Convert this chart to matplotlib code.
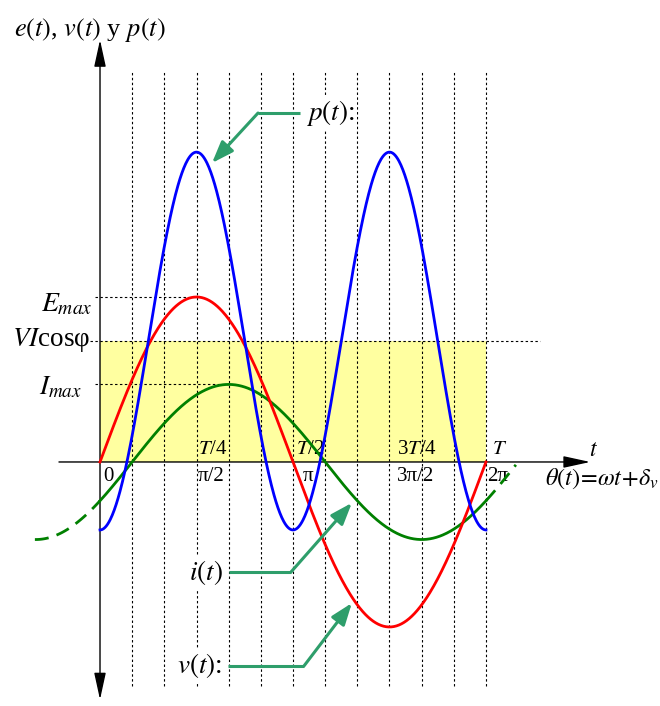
import numpy as np
import matplotlib
matplotlib.use("Agg")
import matplotlib.pyplot as plt
from matplotlib.patches import Rectangle

plt.rcParams["font.family"] = ["Liberation Serif", "DejaVu Serif"]
plt.rcParams["mathtext.fontset"] = "stix"

# Curve parameters (amplitudes relative to E_max)
E_MAX = 1.0            # v(t) amplitude
I_MAX = 0.47           # i(t) amplitude
PHI = np.pi / 6        # current lag
P_MEAN = 0.733         # average power VIcos(phi)
P_AMP = 1.145          # ripple amplitude of p(t)

# extension of the dashed i(t) beyond one period
I_LEFT = -1.06
I_RIGHT = 6.77

# grid lines every 30 degrees
grid_theta = np.arange(1, 13) * np.pi / 6

tick_top = ["$T$/4", "$T$/2", "3$T$/4", "$T$"]
tick_bottom = ["π/2", "π", "3π/2", "2π"]
tick_theta = [np.pi / 2, np.pi, 3 * np.pi / 2, 2 * np.pi]

fig = plt.figure(figsize=(6.6, 7.06), dpi=100)
ax = fig.add_axes([0, 0, 1, 1])
ax.set_xlim(-1.628, 9.116)
ax.set_ylim(-1.479, 2.8)
ax.axis("off")

T = 2 * np.pi
th = np.linspace(0, T, 600)
v = E_MAX * np.sin(th)
i = I_MAX * np.sin(th - PHI)
p = P_MEAN - P_AMP * np.cos(2 * th)

# shaded mean-power band
ax.add_patch(Rectangle((0, 0), T, P_MEAN, facecolor="#ffffa0",
                       edgecolor="none", zorder=0))

# dotted vertical grid
ax.vlines(grid_theta, -1.358, 2.376, colors="black", lw=0.8,
          linestyles=(0, (2.2, 2.2)), zorder=1)

# horizontal reference lines
dot = dict(color="black", lw=0.8, ls=(0, (2.2, 2.2)), zorder=1)
ax.plot([-0.08, np.pi / 2], [E_MAX, E_MAX], **dot)
ax.plot([-0.16, 7.16], [P_MEAN, P_MEAN], **dot)
ax.plot([-0.08, np.pi / 2 + PHI], [I_MAX, I_MAX], **dot)

# axes with arrows
ax.annotate("", xy=(7.98, 0), xytext=(-0.668, 0),
            arrowprops=dict(arrowstyle="-|>,head_length=0.55,head_width=0.12",
                            mutation_scale=30, lw=1.0, color="black",
                            shrinkA=0, shrinkB=0), zorder=3)
ax.annotate("", xy=(0, 2.558), xytext=(0, -1.44),
            arrowprops=dict(arrowstyle="<|-|>,head_length=0.55,head_width=0.12",
                            mutation_scale=30, lw=1.0, color="black",
                            shrinkA=0, shrinkB=0), zorder=3)

# curves
th_l = np.linspace(I_LEFT, 0, 60)
th_r = np.linspace(T, I_RIGHT, 30)
ax.plot(th_l, I_MAX * np.sin(th_l - PHI), color="#008000", lw=2.0,
        ls=(0, (5, 3)), zorder=4)
ax.plot(th_r, I_MAX * np.sin(th_r - PHI), color="#008000", lw=2.0,
        ls=(0, (5, 3)), zorder=4)
ax.plot(th, i, color="#008000", lw=2.0, zorder=4)
ax.plot(th, v, color="#ff0000", lw=2.0, zorder=5)
ax.plot(th, p, color="#0000ff", lw=2.0, zorder=6)

# axis texts
ax.text(-1.40, 2.618, "$e(t)$, $v(t)$ y $p(t)$", fontsize=19,
        ha="left", va="center")
ax.text(-0.13, 0.955, "$E_{max}$", fontsize=20, ha="right", va="center")
ax.text(-0.16, 0.74, "$VI$cosφ", fontsize=19.5, ha="right", va="center")
ax.text(-0.29, 0.45, "$I_{max}$", fontsize=19.5, ha="right", va="center")
ax.text(0.05, -0.085, "0", fontsize=15, ha="left", va="center")

offs_top = [0.02, 0.05, 0.13, 0.1]
offs_bot = [0.02, 0.16, 0.12, 0.02]
for th0, lt, lb, ot, ob in zip(tick_theta, tick_top, tick_bottom,
                               offs_top, offs_bot):
    ax.text(th0 + ot, 0.075, lt, fontsize=15, ha="left", va="center")
    ax.text(th0 + ob, -0.085, lb, fontsize=15, ha="left", va="center")

ax.text(8.04, 0.07, "$t$", fontsize=17, ha="center", va="center")
ax.text(7.24, -0.1, r"$\theta(t)\!=\!\omega t\!+\!\delta_v$", fontsize=17.5,
        ha="left", va="center")

# callouts
green = "#2e9e6b"
box = dict(facecolor="white", edgecolor="none", pad=1.5)


def callout(label, start, elbow, tip, ha):
    ax.plot([start[0], elbow[0]], [start[1], elbow[1]], color=green,
            lw=2.2, solid_capstyle="butt", zorder=7)
    ax.annotate("", xy=tip, xytext=elbow,
                arrowprops=dict(arrowstyle="-|>,head_length=0.6,head_width=0.22",
                                mutation_scale=22, lw=2.2, color=green,
                                shrinkA=0, shrinkB=0), zorder=7)
    x = start[0] + (0.1 if ha == "left" else -0.1)
    ax.text(x, start[1], label, fontsize=19.5, ha=ha, va="center",
            bbox=box, zorder=8)


callout("$p(t)$:", (3.25, 2.115), (2.572, 2.115), (1.823, 1.812), "left")
callout("$i(t)$", (2.10, -0.667), (3.109, -0.667), (4.10, -0.248), "right")
callout("$v(t)$:", (2.084, -1.236), (3.321, -1.236), (4.10, -0.855), "right")

fig.savefig("out.png", dpi=100)
